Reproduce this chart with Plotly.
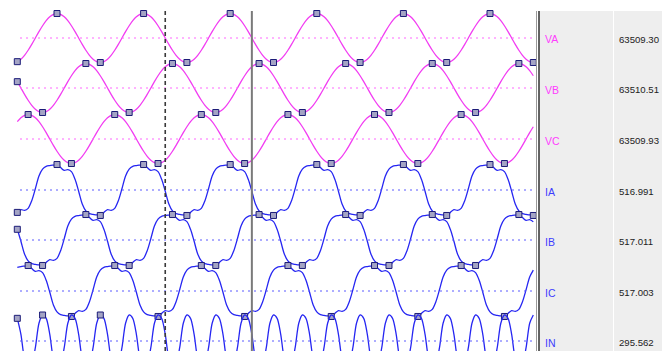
import plotly.graph_objects as go

# 60 Hz record, 24 samples per cycle (1440 samples/s -> 1.44 samples per ms)
SAMPLES_PER_MS = 1.44
N_CYCLES = 6

channel_names = ["VA", "VB", "VC", "IA", "IB", "IC", "IN"]
rms_readout = ["63509.30", "63510.51", "63509.93", "516.991", "517.011", "517.003", "295.562"]

# One steady-state cycle per channel (volts for VA..VC, amps for IA..IN)
va_cycle = [-86757, -77783, -63510, -44908, -23246, 0, 23246, 44908, 63510, 77783, 86757, 89816,
            86757, 77783, 63510, 44908, 23246, 0, -23246, -44908, -63510, -77783, -86757, -89816]
vb_cycle = [23247, 0, -23247, -44909, -63511, -77785, -86759, -89818, -86759, -77785, -63511, -44909,
            -23247, 0, 23247, 44909, 63511, 77785, 86759, 89818, 86759, 77785, 63511, 44909]
vc_cycle = [63510, 77784, 86758, 89817, 86758, 77784, 63510, 44909, 23246, 0, -23246, -44909,
            -63510, -77784, -86758, -89817, -86758, -77784, -63510, -44909, -23246, 0, 23246, 44909]
ia_cycle = [-578, -506, -526, -473, -276, 33, 361, 539, 611, 631, 644, 657,
            578, 506, 526, 473, 276, -33, -361, -539, -611, -631, -644, -657]
ib_cycle = [276, -33, -361, -539, -611, -631, -644, -657, -578, -506, -526, -473,
            -276, 33, 361, 539, 611, 631, 644, 657, 578, 506, 526, 473]
ic_cycle = [611, 631, 644, 657, 578, 506, 526, 473, 276, -33, -361, -539,
            -611, -631, -644, -657, -578, -506, -526, -473, -276, 33, 361, 539]
in_cycle = [340, 101, -267, -390, -340, -101, 267, 390,
            340, 101, -267, -390, -340, -101, 267, 390,
            340, 101, -267, -390, -340, -101, 267, 390]

# Peak-detector flags: sample indices marked on each trace
va_marks = [0, 11, 23, 35, 47, 59, 71, 83, 95, 107, 119, 131, 143]
vb_marks = [0, 7, 19, 31, 43, 55, 67, 79, 91, 103, 115, 127, 139]
vc_marks = [3, 15, 27, 39, 51, 63, 75, 87, 99, 111, 123, 135]
ia_marks = [0, 11, 23, 35, 47, 59, 71, 83, 95, 107, 119, 131, 143]
ib_marks = [0, 7, 19, 31, 43, 55, 67, 79, 91, 103, 115, 127, 139]
ic_marks = [3, 15, 27, 39, 51, 63, 75, 87, 99, 111, 123, 135]
in_marks = [0, 7, 23]

# Cursor times (ms)
cursor_dashed_ms = 28.47
cursor_solid_ms = 45.14

cycles = [va_cycle, vb_cycle, vc_cycle, ia_cycle, ib_cycle, ic_cycle, in_cycle]
marks = [va_marks, vb_marks, vc_marks, ia_marks, ib_marks, ic_marks, in_marks]

# ---- display geometry -------------------------------------------------------
W, H = 662, 351
PLOT_LEFT, PLOT_RIGHT = 16, 536
row_center_px = [38, 88, 139, 190, 240, 291, 341]
units_per_px = [3666, 3666, 3666, 25.8, 25.8, 25.8, 15.0]
line_colors = ["#f23df2"] * 3 + ["#2626f2"] * 4
zero_colors = ["#ff66ff"] * 3 + ["#5a5aff"] * 4
label_colors = ["#ff3cff"] * 3 + ["#3c3cff"] * 4


def px(xp):
    return xp / W


def py(yp):
    return 1 - yp / H


fig = go.Figure()

n_samples = 24 * N_CYCLES
t_ms = [k / SAMPLES_PER_MS for k in range(n_samples)]

for i, (name, cyc, mk) in enumerate(zip(channel_names, cycles, marks)):
    values = cyc * N_CYCLES
    yref = "y" if i == 0 else f"y{i + 1}"
    fig.add_trace(go.Scatter(
        x=t_ms, y=values, mode="lines", name=name, yaxis=yref,
        line=dict(color=line_colors[i], width=1.3, shape="spline", smoothing=0.8),
        hoverinfo="skip", showlegend=False,
    ))
    fig.add_trace(go.Scatter(
        x=[t_ms[k] for k in mk], y=[values[k] for k in mk], mode="markers", yaxis=yref,
        marker=dict(symbol="square", size=6, color="#a4a4c4",
                    line=dict(color="#1c1c78", width=1)),
        cliponaxis=False, hoverinfo="skip", showlegend=False,
    ))

# time axis: 16.667 ms per 86.6 px
ms_per_px = 16.6667 / 86.6
t_left = 11 / SAMPLES_PER_MS - (57 - PLOT_LEFT) * ms_per_px
t_right = t_left + (PLOT_RIGHT - PLOT_LEFT) * ms_per_px

layout = dict(
    width=W, height=H,
    margin=dict(l=0, r=0, t=0, b=0),
    paper_bgcolor="white", plot_bgcolor="white",
    showlegend=False,
    xaxis=dict(domain=[px(PLOT_LEFT), px(PLOT_RIGHT)], range=[t_left, t_right],
               visible=False, fixedrange=True),
)
for i in range(7):
    key = "yaxis" if i == 0 else f"yaxis{i + 1}"
    yc, s = row_center_px[i], units_per_px[i]
    ax = dict(domain=[0, 1], range=[-(H - yc) * s, yc * s], visible=False, fixedrange=True)
    if i > 0:
        ax["overlaying"] = "y"
    layout[key] = ax
fig.update_layout(**layout)

shapes = []
# dotted zero lines
for i in range(7):
    yref = "y" if i == 0 else f"y{i + 1}"
    shapes.append(dict(type="line", xref="paper", yref=yref,
                       x0=px(20), x1=px(537), y0=0, y1=0,
                       line=dict(color=zero_colors[i], width=1, dash="2px,4px")))
# cursors
shapes.append(dict(type="line", xref="x", yref="paper", x0=cursor_dashed_ms, x1=cursor_dashed_ms,
                   y0=0, y1=py(11), line=dict(color="#3a3a3a", width=1.6, dash="4px,3px")))
shapes.append(dict(type="line", xref="x", yref="paper", x0=cursor_solid_ms, x1=cursor_solid_ms,
                   y0=0, y1=py(11), line=dict(color="#7a7a7a", width=2)))
# readout panel
shapes.append(dict(type="rect", xref="paper", yref="paper", x0=px(539.5), x1=1.01, y0=-0.01, y1=py(11),
                   fillcolor="#eeeeee", line=dict(width=0), layer="below"))
shapes.append(dict(type="line", xref="paper", yref="paper", x0=px(536.5), x1=px(536.5), y0=0, y1=py(11),
                   line=dict(color="#9a9a9a", width=1)))
shapes.append(dict(type="line", xref="paper", yref="paper", x0=px(539), x1=px(539), y0=0, y1=py(11),
                   line=dict(color="#303030", width=1.5)))
shapes.append(dict(type="line", xref="paper", yref="paper", x0=px(613.5), x1=px(613.5), y0=0, y1=py(11),
                   line=dict(color="#ffffff", width=1)))
fig.update_layout(shapes=shapes)

ann = []
for i in range(7):
    yc = row_center_px[i] + 1.5
    ann.append(dict(xref="paper", yref="paper", x=px(542.5), y=py(yc), text=channel_names[i],
                    showarrow=False, xanchor="left", yanchor="middle",
                    font=dict(family="Liberation Sans, Arial", size=10.5, color=label_colors[i])))
    ann.append(dict(xref="paper", yref="paper", x=px(617), y=py(yc - 0.5), text=rms_readout[i],
                    showarrow=False, xanchor="left", yanchor="middle",
                    font=dict(family="Liberation Sans, Arial", size=9.6, color="#222222")))
fig.update_layout(annotations=ann)

fig.write_html("out.html", config={"displayModeBar": False})
